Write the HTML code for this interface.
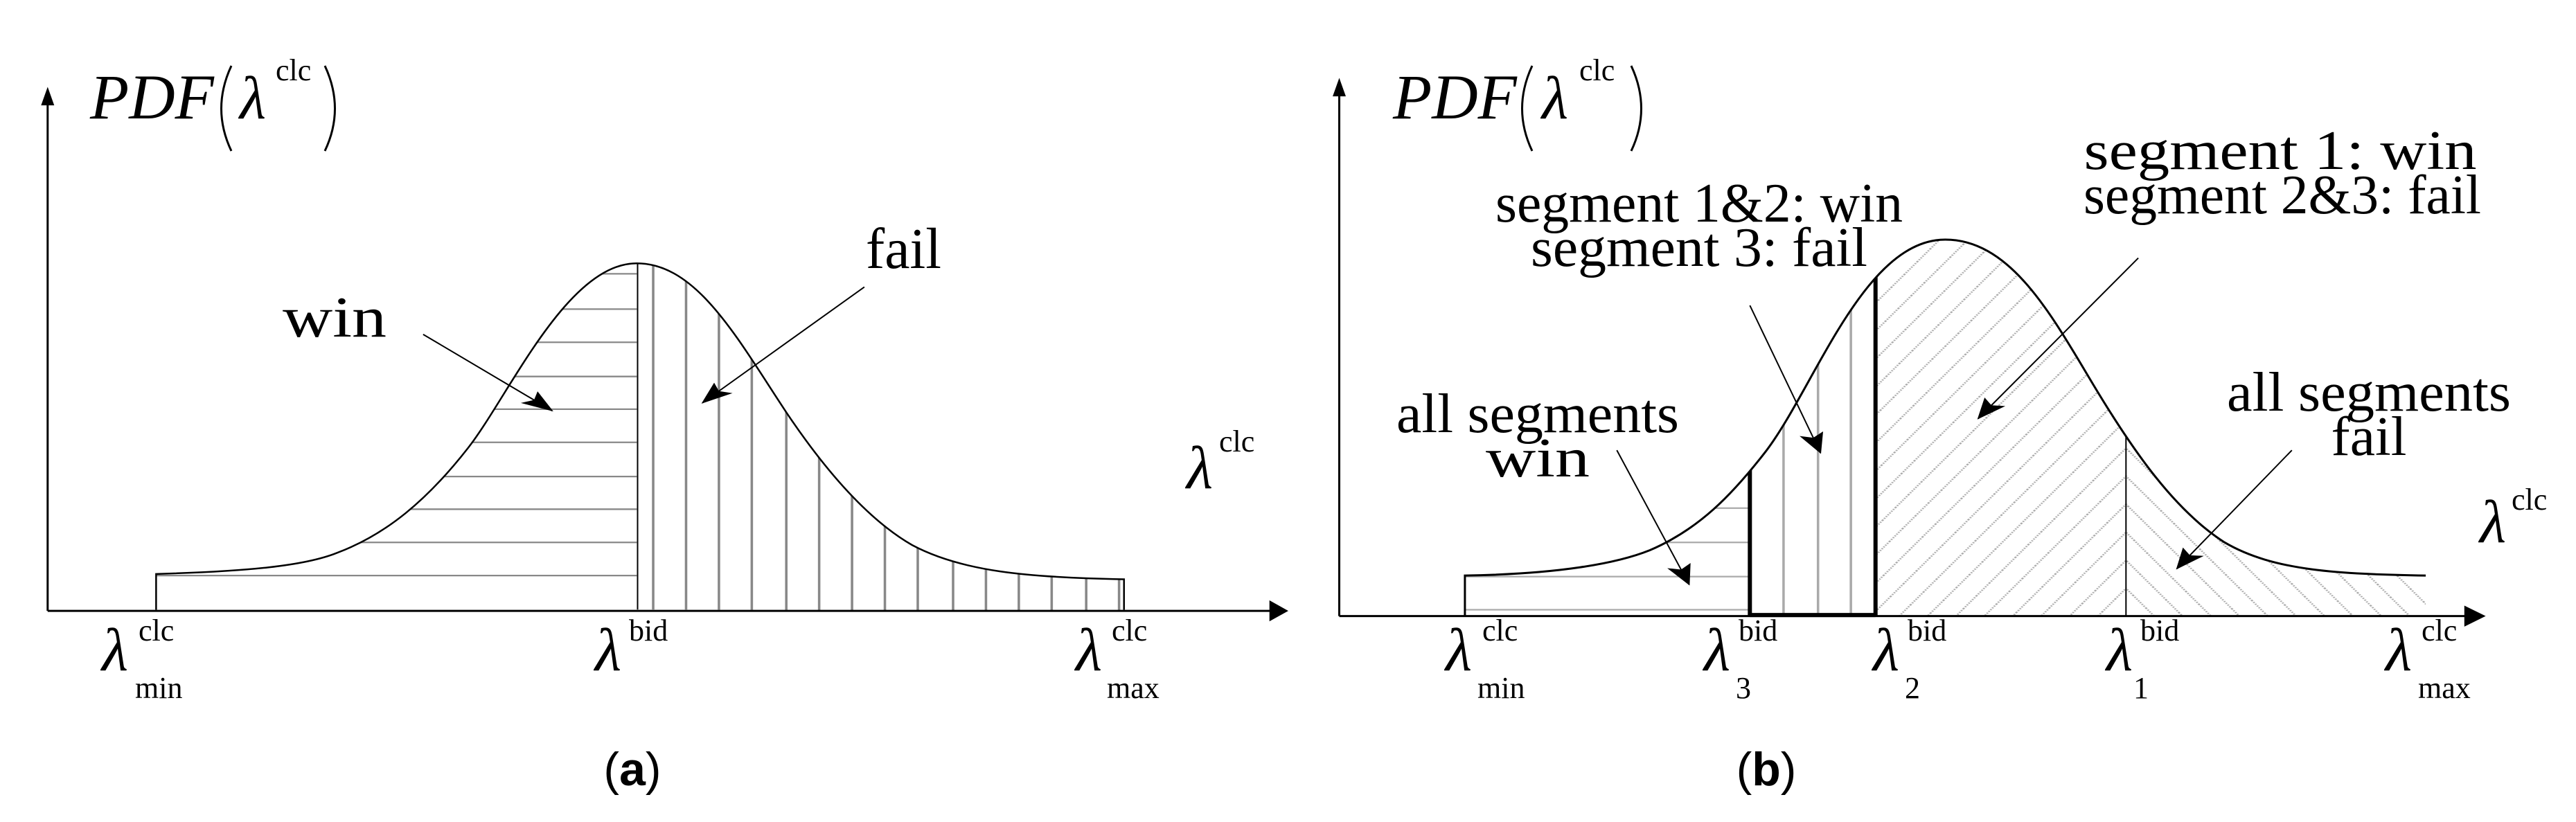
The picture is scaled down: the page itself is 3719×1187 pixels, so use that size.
<!DOCTYPE html>
<html><head><meta charset="utf-8"><style>html,body{margin:0;padding:0;background:#fff;overflow:hidden}svg{display:block}text{font-family:"Liberation Serif",serif}</style></head>
<body>
<svg width="3719" height="1187" viewBox="0 0 3719 1187" xmlns="http://www.w3.org/2000/svg">
<defs>
<marker id="ah2" markerWidth="40" markerHeight="40" refX="38" refY="15" orient="auto" markerUnits="userSpaceOnUse" overflow="visible"><path d="M0,0 L40,15 L0,30 L8,15 Z" fill="#000"/></marker>
<pattern id="pd1" width="29" height="29" patternUnits="userSpaceOnUse" patternTransform="rotate(-57)"><rect width="29" height="29" fill="#fff"/><line x1="0" y1="14" x2="29" y2="14" stroke="#a8a8a8" stroke-width="2.5" stroke-dasharray="2 2"/></pattern>
<pattern id="pd2" width="29" height="29" patternUnits="userSpaceOnUse" patternTransform="rotate(57)"><rect width="29" height="29" fill="#fff"/><line x1="0" y1="14" x2="29" y2="14" stroke="#a8a8a8" stroke-width="2.5" stroke-dasharray="2 2"/></pattern>
<clipPath id="cl"><path d="M190,1155 L190,1090 C300,1085 370,1075 410,1050 C470,1015 520,950 570,850 C620,750 690,500 775,500 C850,500 900,650 960,790 C1010,905 1060,990 1110,1035 C1170,1085 1250,1097 1368,1100 L1368,1160 Z"/></clipPath>
<clipPath id="cr"><path d="M215,1170 L215,1093 C330,1090 400,1070 440,1045 C500,1005 540,940 580,860 C640,740 700,455 800,455 C880,455 930,600 980,730 C1030,860 1080,970 1140,1030 C1200,1085 1280,1090 1385,1093 L1385,1170 Z"/></clipPath>
</defs>

<g transform="scale(1.1862,0.7604)">
<g clip-path="url(#cl)">
<g stroke="#888" stroke-width="3" vector-effect="non-scaling-stroke">
<line x1="150" y1="520" x2="775" y2="520"/><line x1="150" y1="587" x2="775" y2="587"/><line x1="150" y1="650" x2="775" y2="650"/><line x1="150" y1="715" x2="775" y2="715"/><line x1="150" y1="777" x2="775" y2="777"/><line x1="150" y1="840" x2="775" y2="840"/><line x1="150" y1="905" x2="775" y2="905"/><line x1="150" y1="967" x2="775" y2="967"/><line x1="150" y1="1030" x2="775" y2="1030"/><line x1="150" y1="1093" x2="775" y2="1093"/>
<line x1="795" y1="450" x2="795" y2="1160"/><line x1="835" y1="450" x2="835" y2="1160"/><line x1="875" y1="450" x2="875" y2="1160"/><line x1="915" y1="450" x2="915" y2="1160"/><line x1="957" y1="450" x2="957" y2="1160"/><line x1="997" y1="450" x2="997" y2="1160"/><line x1="1037" y1="450" x2="1037" y2="1160"/><line x1="1077" y1="450" x2="1077" y2="1160"/><line x1="1117" y1="450" x2="1117" y2="1160"/><line x1="1160" y1="450" x2="1160" y2="1160"/><line x1="1200" y1="450" x2="1200" y2="1160"/><line x1="1240" y1="450" x2="1240" y2="1160"/><line x1="1280" y1="450" x2="1280" y2="1160"/><line x1="1322" y1="450" x2="1322" y2="1160"/><line x1="1362" y1="450" x2="1362" y2="1160"/>
</g>
<line x1="776" y1="450" x2="776" y2="1160" stroke="#000" stroke-width="2" vector-effect="non-scaling-stroke"/>
</g>
<path d="M190,1158 L190,1090 C300,1085 370,1075 410,1050 C470,1015 520,950 570,850 C620,750 690,500 775,500 C850,500 900,650 960,790 C1010,905 1060,990 1110,1035 C1170,1085 1250,1097 1368,1100 L1368,1158" fill="none" stroke="#000" stroke-width="2.5" vector-effect="non-scaling-stroke"/>
<line x1="58" y1="1160" x2="1550" y2="1160" stroke="#000" stroke-width="3" vector-effect="non-scaling-stroke"/>
<path d="M1568,1160 L1545,1140 L1545,1180 Z"/>
<line x1="58" y1="1160" x2="58" y2="185" stroke="#000" stroke-width="3" vector-effect="non-scaling-stroke"/>
<path d="M58,165 L50,200 L66,200 Z"/>
<line x1="515" y1="635" x2="672" y2="780" stroke="#000" stroke-width="2" vector-effect="non-scaling-stroke" marker-end="url(#ah2)"/>
<line x1="1052" y1="545" x2="855" y2="765" stroke="#000" stroke-width="2" vector-effect="non-scaling-stroke" marker-end="url(#ah2)"/>
</g>

<g transform="translate(1860,0) scale(1.1856,0.7604)">
<g clip-path="url(#cr)">
<rect x="715" y="400" width="305" height="780" fill="url(#pd1)"/>
<rect x="1020" y="400" width="370" height="780" fill="url(#pd2)"/>
<g stroke="#aaa" stroke-width="3" vector-effect="non-scaling-stroke">
<line x1="200" y1="965" x2="562" y2="965"/><line x1="200" y1="1030" x2="562" y2="1030"/><line x1="200" y1="1095" x2="562" y2="1095"/><line x1="200" y1="1158" x2="562" y2="1158"/>
<line x1="603" y1="400" x2="603" y2="1170"/><line x1="645" y1="400" x2="645" y2="1170"/><line x1="685" y1="400" x2="685" y2="1170"/>
</g>
<line x1="562" y1="400" x2="562" y2="1170" stroke="#000" stroke-width="6" vector-effect="non-scaling-stroke"/>
<line x1="715" y1="400" x2="715" y2="1170" stroke="#000" stroke-width="6" vector-effect="non-scaling-stroke"/>
<line x1="1020" y1="400" x2="1020" y2="1170" stroke="#000" stroke-width="2" vector-effect="non-scaling-stroke"/>
</g>
<line x1="562" y1="1168" x2="715" y2="1168" stroke="#000" stroke-width="6" vector-effect="non-scaling-stroke"/>
<path d="M215,1170 L215,1093 C330,1090 400,1070 440,1045 C500,1005 540,940 580,860 C640,740 700,455 800,455 C880,455 930,600 980,730 C1030,860 1080,970 1140,1030 C1200,1085 1280,1090 1385,1093" fill="none" stroke="#000" stroke-width="3" vector-effect="non-scaling-stroke"/>
<line x1="62" y1="1170" x2="1440" y2="1170" stroke="#000" stroke-width="3" vector-effect="non-scaling-stroke"/>
<path d="M1458,1170 L1432,1150 L1432,1190 Z"/>
<line x1="62" y1="1170" x2="62" y2="170" stroke="#000" stroke-width="3" vector-effect="non-scaling-stroke"/>
<path d="M62,148 L54,183 L70,183 Z"/>
<line x1="562" y1="580" x2="648" y2="860" stroke="#000" stroke-width="2" vector-effect="non-scaling-stroke" marker-end="url(#ah2)"/>
<line x1="1035" y1="490" x2="840" y2="795" stroke="#000" stroke-width="2" vector-effect="non-scaling-stroke" marker-end="url(#ah2)"/>
<line x1="400" y1="855" x2="488" y2="1110" stroke="#000" stroke-width="2" vector-effect="non-scaling-stroke" marker-end="url(#ah2)"/>
<line x1="1222" y1="855" x2="1082" y2="1080" stroke="#000" stroke-width="2" vector-effect="non-scaling-stroke" marker-end="url(#ah2)"/>
</g>

<g fill="#000">
<text x="130" y="171" font-size="92" font-style="italic">PDF</text>
<path d="M334,95 Q305,157 334,218" fill="none" stroke="#000" stroke-width="3"/>
<path d="M469,95 Q498,157 469,218" fill="none" stroke="#000" stroke-width="3"/>
<text x="346" y="171" font-size="88" font-style="italic">λ</text>
<text x="398" y="116" font-size="44">clc</text>
<text x="408" y="486" font-size="84" textLength="150" lengthAdjust="spacingAndGlyphs">win</text>
<text x="1250" y="387" font-size="84" textLength="109" lengthAdjust="spacingAndGlyphs">fail</text>
<text x="1713" y="705" font-size="88" font-style="italic">λ</text><text x="1760" y="652" font-size="44">clc</text>
<text x="147" y="968" font-size="88" font-style="italic">λ</text><text x="200" y="925" font-size="44">clc</text><text x="195" y="1008" font-size="44">min</text>
<text x="859" y="968" font-size="88" font-style="italic">λ</text><text x="908" y="925" font-size="44">bid</text>
<text x="1553" y="968" font-size="88" font-style="italic">λ</text><text x="1605" y="925" font-size="44">clc</text><text x="1598" y="1008" font-size="44">max</text>
<text x="913" y="1134" font-size="68" text-anchor="middle" style="font-family:'Liberation Sans',sans-serif">(<tspan font-weight="bold">a</tspan>)</text>

<text x="2011" y="171" font-size="92" font-style="italic">PDF</text>
<path d="M2212,95 Q2183,157 2212,218" fill="none" stroke="#000" stroke-width="3"/>
<path d="M2355,95 Q2384,157 2355,218" fill="none" stroke="#000" stroke-width="3"/>
<text x="2226" y="171" font-size="88" font-style="italic">λ</text>
<text x="2280" y="116" font-size="44">clc</text>
<g font-size="80" text-anchor="middle">
<text x="2453" y="320" textLength="588" lengthAdjust="spacingAndGlyphs">segment 1&amp;2: win</text>
<text x="2453" y="384" textLength="486" lengthAdjust="spacingAndGlyphs">segment 3: fail</text>
<text x="3292" y="244" textLength="567" lengthAdjust="spacingAndGlyphs">segment 1: win</text>
<text x="3295" y="308" textLength="574" lengthAdjust="spacingAndGlyphs">segment 2&amp;3: fail</text>
<text x="2220" y="624" textLength="408" lengthAdjust="spacingAndGlyphs">all segments</text>
<text x="2220" y="688" textLength="150" lengthAdjust="spacingAndGlyphs">win</text>
<text x="3420" y="593" textLength="410" lengthAdjust="spacingAndGlyphs">all segments</text>
<text x="3420" y="657" textLength="109" lengthAdjust="spacingAndGlyphs">fail</text>
</g>
<text x="3580" y="783" font-size="88" font-style="italic">λ</text><text x="3626" y="736" font-size="44">clc</text>
<text x="2087" y="968" font-size="88" font-style="italic">λ</text><text x="2140" y="925" font-size="44">clc</text><text x="2133" y="1008" font-size="44">min</text>
<text x="2460" y="968" font-size="88" font-style="italic">λ</text><text x="2510" y="925" font-size="44">bid</text><text x="2506" y="1008" font-size="44">3</text>
<text x="2704" y="968" font-size="88" font-style="italic">λ</text><text x="2754" y="925" font-size="44">bid</text><text x="2750" y="1008" font-size="44">2</text>
<text x="3041" y="968" font-size="88" font-style="italic">λ</text><text x="3090" y="925" font-size="44">bid</text><text x="3080" y="1008" font-size="44">1</text>
<text x="3444" y="968" font-size="88" font-style="italic">λ</text><text x="3496" y="925" font-size="44">clc</text><text x="3491" y="1008" font-size="44">max</text>
<text x="2550" y="1134" font-size="68" text-anchor="middle" style="font-family:'Liberation Sans',sans-serif">(<tspan font-weight="bold">b</tspan>)</text>
</g>
</svg>
</body></html>
